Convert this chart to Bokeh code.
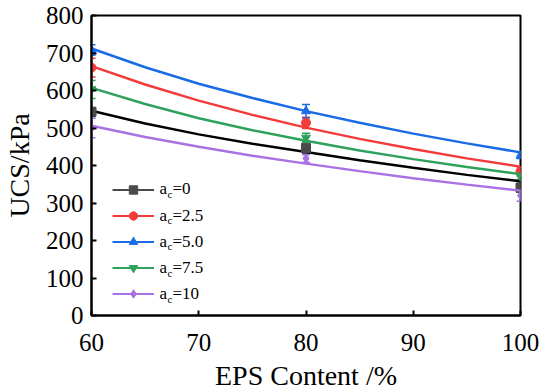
from bokeh.plotting import figure
from bokeh.models import (ColumnDataSource, Whisker, TeeHead, Legend, LegendItem,
                          Label, FixedTicker, Range1d)
from bokeh.embed import file_html
from bokeh.resources import INLINE

# ---------------- data ----------------
eps = [60, 80, 100]
labels = ["0", "2.5", "5.0", "7.5", "10"]
ucs_0 = [543, 447, 341]
ucs_25 = [661, 514, 384]
ucs_50 = [708, 545, 427]
ucs_75 = [603, 474, 371]
ucs_10 = [500, 419, 320]
err_0 = [12, 15, 12]
err_25 = [25, 15, 12]
err_50 = [14, 18, 8]
err_75 = [24, 12, 8]
err_10 = [26, 10, 15]

# fitted curves
fit_x = [60, 65, 70, 75, 80, 85, 90, 95, 100]
fit_0 = [546, 512, 483, 458, 436, 414, 394, 375, 358]
fit_25 = [665, 616, 573, 535, 501, 471, 444, 419, 397]
fit_50 = [712, 662, 618, 580, 545, 514, 485, 459, 435]
fit_75 = [607, 564, 526, 494, 466, 440, 417, 396, 377]
fit_10 = [506, 476, 450, 426, 405, 385, 366, 349, 333]

x_ticks = [60, 70, 80, 90, 100]
y_ticks = [0, 100, 200, 300, 400, 500, 600, 700, 800]

# ---------------- style ----------------
FONT = "Liberation Serif"
series = [
    (ucs_0, err_0, fit_0, "#4a4a4a", "#000000", "square"),
    (ucs_25, err_25, fit_25, "#f23b3b", "#f23b3b", "circle"),
    (ucs_50, err_50, fit_50, "#1a6be6", "#1a6be6", "triangle"),
    (ucs_75, err_75, fit_75, "#2ea25c", "#2ea25c", "inverted_triangle"),
    (ucs_10, err_10, fit_10, "#a872e3", "#a872e3", "diamond"),
]

p = figure(frame_width=429, frame_height=300,
           x_range=Range1d(60, 100), y_range=Range1d(0, 800),
           output_backend="svg", toolbar_location=None,
           min_border_left=83, min_border_right=22,
           min_border_top=15, min_border_bottom=62)
p.xgrid.visible = False
p.ygrid.visible = False
p.outline_line_color = "black"
p.outline_line_width = 2
p.background_fill_color = "white"
p.border_fill_color = "white"

for ax in (p.xaxis[0], p.yaxis[0]):
    ax.axis_line_width = 2
    ax.major_tick_line_width = 2
    ax.major_tick_in = 5
    ax.major_tick_out = 0
    ax.minor_tick_line_color = None
    ax.major_label_text_font = FONT
    ax.major_label_text_font_size = "25px"
    ax.major_label_text_color = "black"
    ax.axis_label_text_font = FONT
    ax.axis_label_text_font_size = "28px"
    ax.axis_label_text_font_style = "normal"
    ax.axis_label_text_color = "black"
p.xaxis[0].ticker = FixedTicker(ticks=x_ticks)
p.yaxis[0].ticker = FixedTicker(ticks=y_ticks)
p.xaxis[0].axis_label = "EPS Content /%"
p.yaxis[0].axis_label = "UCS/kPa"
p.xaxis[0].major_label_standoff = 18
p.yaxis[0].major_label_standoff = 8
p.xaxis[0].axis_label_standoff = 6
p.yaxis[0].axis_label_standoff = 8

items = []
for ys, es, fs, mcol, lcol, marker in series:
    # fitted curve
    p.line(fit_x, fs, line_color=lcol, line_width=2.5)
    src = ColumnDataSource(dict(x=eps, y=ys,
                                upper=[a + b for a, b in zip(ys, es)],
                                lower=[a - b for a, b in zip(ys, es)]))
    w = Whisker(base="x", upper="upper", lower="lower", source=src,
                line_color=mcol, line_width=1.5,
                upper_head=TeeHead(size=8, line_color=mcol, line_width=1.5),
                lower_head=TeeHead(size=8, line_color=mcol, line_width=1.5))
    p.add_layout(w)
    # smaller marker for the legend, hidden under the data marker
    first = ColumnDataSource(dict(x=eps[:1], y=ys[:1]))
    lg_line = p.line("x", "y", source=first, line_color=mcol, line_width=2)
    lg_mark = p.scatter("x", "y", source=first, marker=marker, size=7,
                        fill_color=mcol, line_color=mcol)
    p.scatter("x", "y", source=src, marker=marker, size=9,
              fill_color=mcol, line_color=mcol)
    items.append(LegendItem(label=" ", renderers=[lg_line, lg_mark]))

legend = Legend(items=items, location=(21, 11), glyph_width=42, glyph_height=21,
                label_height=21, spacing=5, padding=0, label_standoff=0,
                label_width=0, label_text_font_size="1px",
                border_line_alpha=0, background_fill_alpha=0)
p.add_layout(legend)

# legend texts with subscript c (screen units, relative to the frame)
for i, lab in enumerate(labels):
    cy = 21.7 + 26.25 * (4 - i)
    x0 = 68
    p.add_layout(Label(x=x0, y=cy, x_units="screen", y_units="screen", text="a",
                       text_font=FONT, text_font_size="17px", text_baseline="middle",
                       text_color="black"))
    p.add_layout(Label(x=x0 + 8, y=cy - 5, x_units="screen", y_units="screen", text="c",
                       text_font=FONT, text_font_size="11px", text_baseline="middle",
                       text_color="black"))
    p.add_layout(Label(x=x0 + 13, y=cy, x_units="screen", y_units="screen", text="=" + lab,
                       text_font=FONT, text_font_size="17px", text_baseline="middle",
                       text_color="black"))

open("out.html", "w").write(file_html(p, INLINE))
